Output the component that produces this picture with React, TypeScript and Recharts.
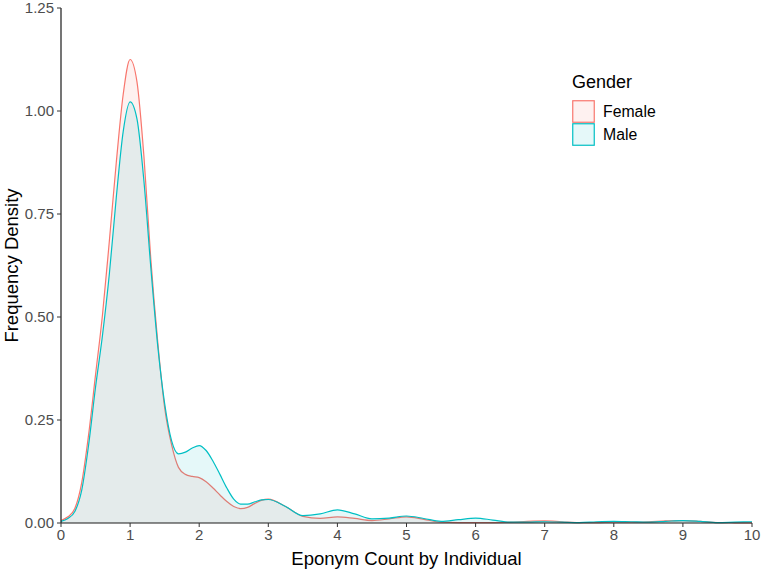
import React from "react";
import { AreaChart, Area, XAxis, YAxis, Legend } from "recharts";

const FONT = "'Liberation Sans', Arial, Helvetica, sans-serif";

// grid of eponym counts the density was evaluated on
const counts = [
  0, 0.1, 0.2, 0.3, 0.4, 0.5, 0.6, 0.7, 0.8, 0.9, 1, 1.1, 1.2, 1.3, 1.4, 1.5,
  1.6, 1.7, 1.8, 1.9, 2, 2.1, 2.2, 2.3, 2.4, 2.5, 2.6, 2.7, 2.8, 2.9, 3, 3.25,
  3.5, 3.75, 4, 4.25, 4.5, 4.75, 5, 5.25, 5.5, 5.75, 6, 6.25, 6.5, 6.75, 7,
  7.25, 7.5, 7.75, 8, 8.25, 8.5, 8.75, 9, 9.25, 9.5, 9.75, 10,
];

const femaleDensity = [
  0.006, 0.015, 0.035, 0.098, 0.215, 0.36, 0.505, 0.685, 0.875, 1.04, 1.125,
  1.07, 0.89, 0.64, 0.44, 0.28, 0.19, 0.135, 0.118, 0.113, 0.11, 0.1, 0.085,
  0.068, 0.052, 0.04, 0.035, 0.038, 0.047, 0.055, 0.058, 0.04, 0.016, 0.011,
  0.015, 0.011, 0.006, 0.01, 0.015, 0.009, 0.002, 0.001, 0.001, 0.001, 0.002,
  0.004, 0.005, 0.003, 0.001, 0.001, 0.002, 0.002, 0.003, 0.005, 0.006, 0.004,
  0.001, 0.0005, 0.0003,
];

const maleDensity = [
  0.004, 0.011, 0.028, 0.08, 0.19, 0.33, 0.455, 0.605, 0.79, 0.95, 1.022,
  0.98, 0.83, 0.62, 0.43, 0.29, 0.2, 0.168, 0.172, 0.182, 0.188, 0.176, 0.15,
  0.118, 0.085, 0.058, 0.046, 0.046, 0.051, 0.056, 0.057, 0.04, 0.018, 0.022,
  0.032, 0.022, 0.01, 0.012, 0.017, 0.011, 0.004, 0.008, 0.012, 0.007, 0.002,
  0.002, 0.003, 0.002, 0.001, 0.003, 0.004, 0.003, 0.002, 0.004, 0.006, 0.004,
  0.001, 0.002, 0.003,
];

const xTicks = [0, 1, 2, 3, 4, 5, 6, 7, 8, 9, 10];
const yTicks = [0, 0.25, 0.5, 0.75, 1, 1.25];

const series = [
  { key: "female", name: "Female", color: "#F8766D" },
  { key: "male", name: "Male", color: "#00BFC4" },
];

const data = counts.map((x, i) => ({
  x,
  female: femaleDensity[i],
  male: maleDensity[i],
}));

const GenderLegend = () => (
  <div style={{ fontFamily: FONT, lineHeight: 1, color: "#000" }}>
    <div style={{ fontSize: 18, marginBottom: 9 }}>Gender</div>
    {series.map((s) => (
      <div
        key={s.key}
        style={{ display: "flex", alignItems: "center", height: 23 }}
      >
        <svg width={23} height={23}>
          <rect
            x={0.75}
            y={0.75}
            width={21.5}
            height={21.5}
            fill={s.color}
            fillOpacity={0.1}
            stroke={s.color}
            strokeWidth={1.2}
          />
        </svg>
        <span style={{ marginLeft: 8, fontSize: 15.8 }}>{s.name}</span>
      </div>
    ))}
  </div>
);

export default function App() {
  const tickStyle = { fill: "#4d4d4d", fontSize: 15, fontFamily: FONT };
  return (
    <div style={{ position: "absolute", left: 0, top: 0, background: "#fff" }}>
      <AreaChart
        width={762}
        height={569}
        data={data}
        margin={{ top: 8, right: 10, bottom: 0, left: 0 }}
      >
        <XAxis
          dataKey="x"
          type="number"
          domain={[0, 10]}
          ticks={xTicks}
          interval={0}
          height={46}
          tick={tickStyle}
          tickSize={4}
          tickMargin={2}
          axisLine={{ stroke: "#1a1a1a", strokeWidth: 1.2 }}
          tickLine={{ stroke: "#333" }}
          label={{
            value: "Eponym Count by Individual",
            position: "insideBottom",
            offset: 4,
            fill: "#000",
            fontSize: 18.5,
            fontFamily: FONT,
          }}
        />
        <YAxis
          type="number"
          domain={[0, 1.25]}
          ticks={yTicks}
          interval={0}
          width={61}
          tick={tickStyle}
          tickSize={4}
          tickMargin={3}
          tickFormatter={(v: number) => v.toFixed(2)}
          axisLine={{ stroke: "#1a1a1a", strokeWidth: 1.2 }}
          tickLine={{ stroke: "#333" }}
          label={{
            value: "Frequency Density",
            angle: -90,
            position: "insideLeft",
            offset: 11,
            fill: "#000",
            fontSize: 18.5,
            fontFamily: FONT,
            style: { textAnchor: "middle" },
          }}
        />
        {series.map((s) => (
          <Area
            key={s.key}
            type="monotone"
            dataKey={s.key}
            name={s.name}
            stroke={s.color}
            strokeWidth={1.2}
            fill={s.color}
            fillOpacity={0.1}
            dot={false}
            activeDot={false}
            isAnimationActive={false}
          />
        ))}
        <Legend
          layout="vertical"
          align="center"
          verticalAlign="middle"
          content={<GenderLegend />}
          wrapperStyle={{ top: 73, left: 572, width: 150, height: "auto" }}
        />
      </AreaChart>
    </div>
  );
}
